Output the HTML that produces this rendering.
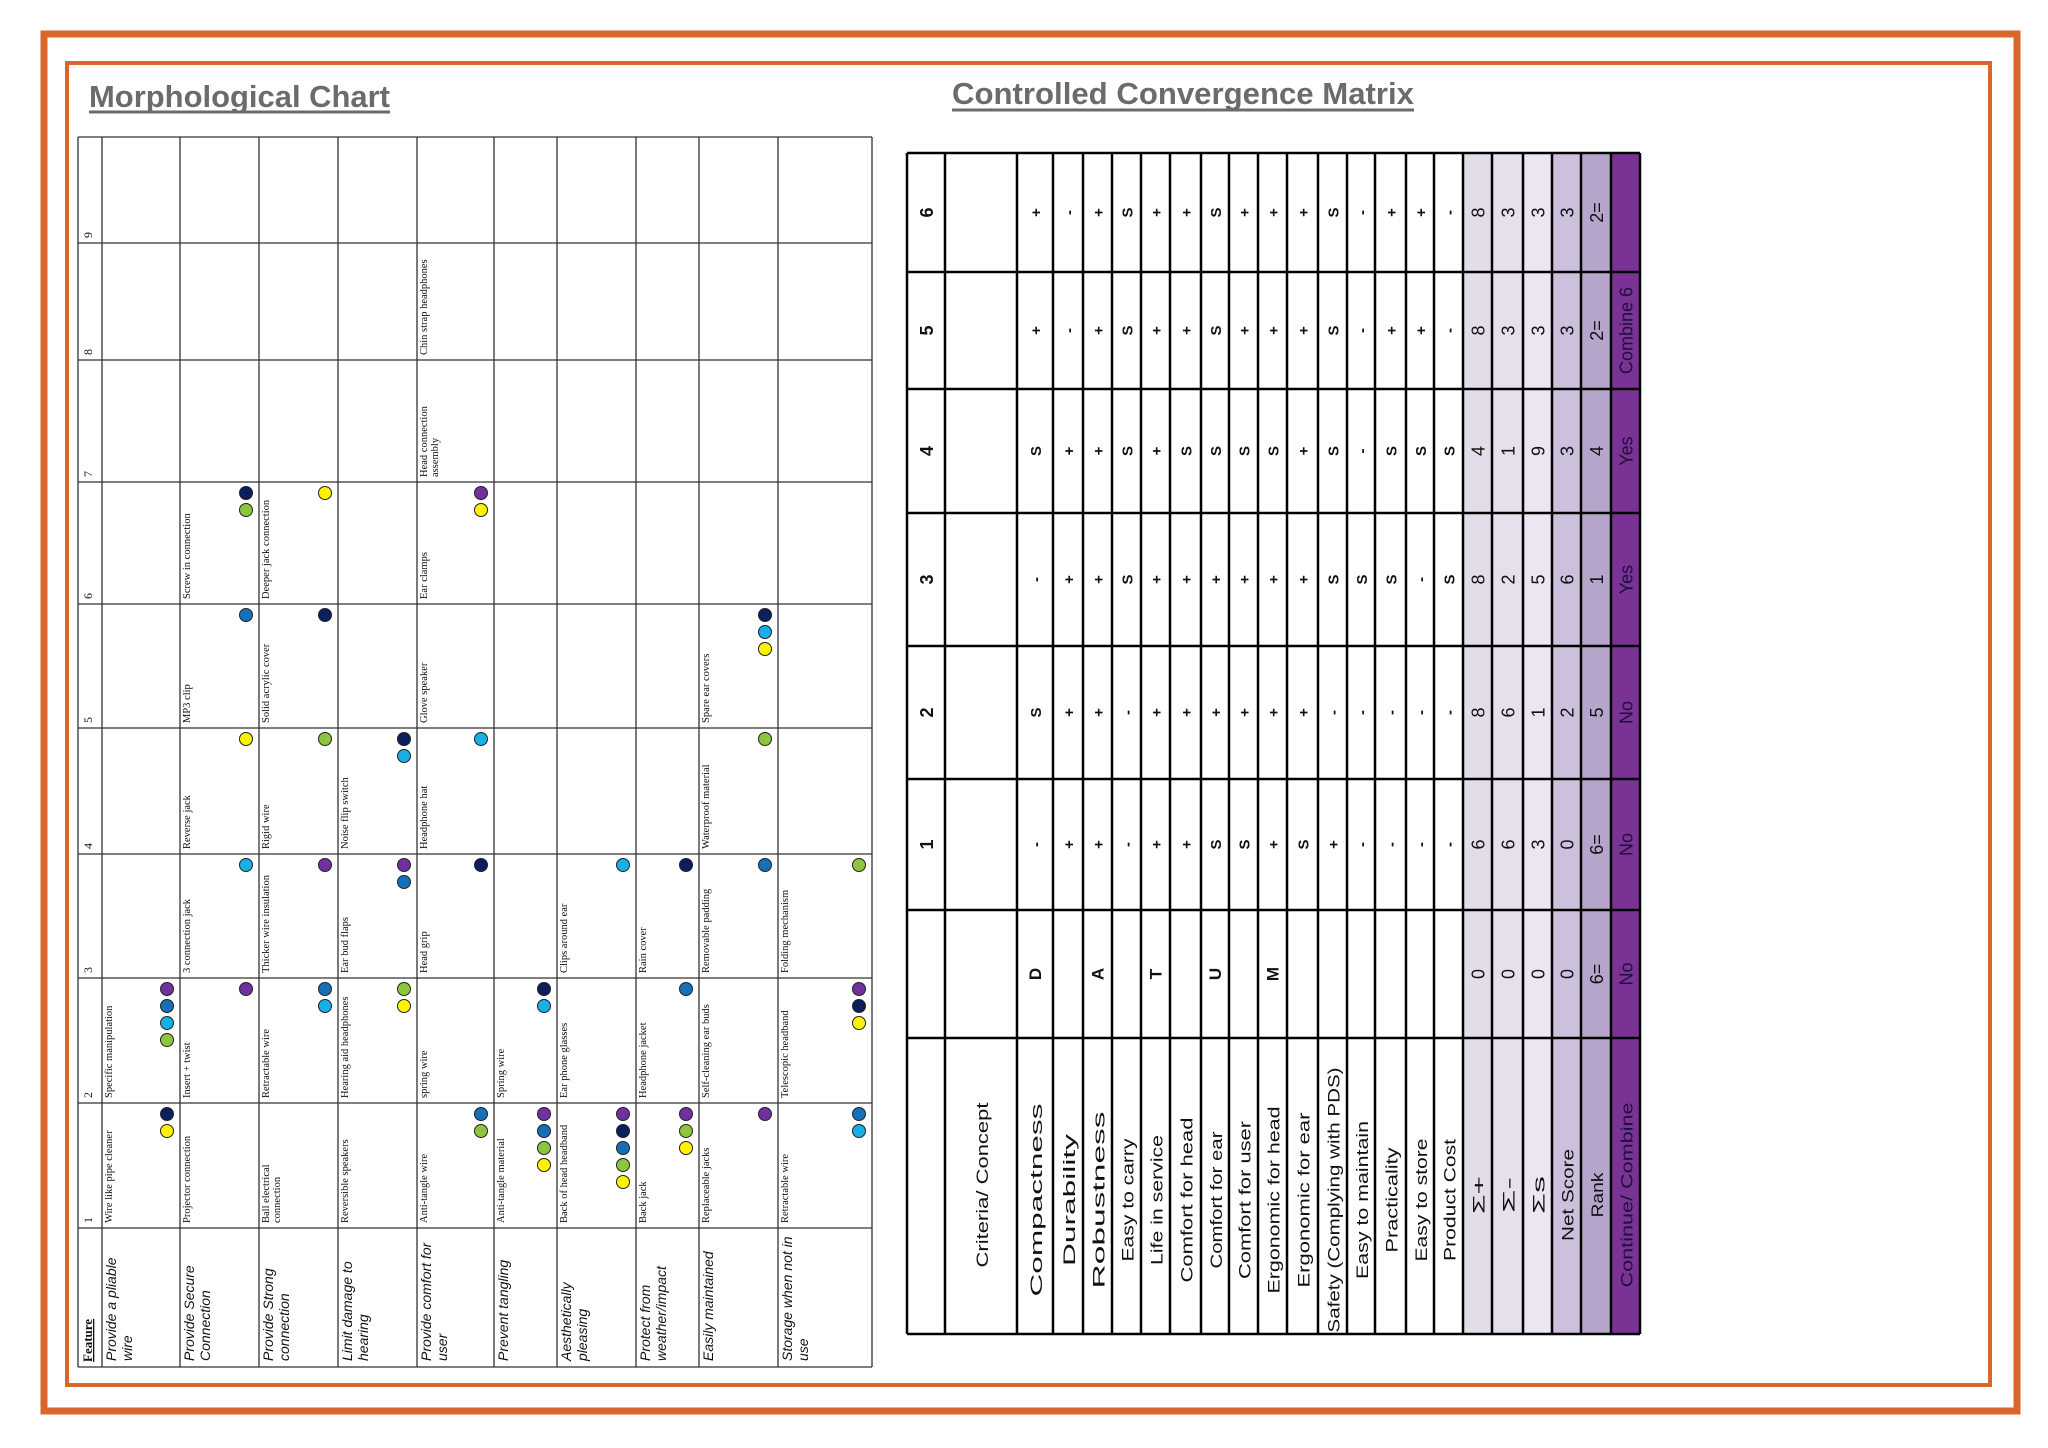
<!DOCTYPE html>
<html><head><meta charset="utf-8">
<style>
html,body{margin:0;padding:0;background:#fff;}
svg{display:block;}
</style></head>
<body>
<svg id="root" xmlns="http://www.w3.org/2000/svg" width="2048" height="1448" viewBox="0 0 2048 1448">
<rect x="0" y="0" width="2048" height="1448" fill="#fff"/>
<rect x="44" y="34" width="1973" height="1377" fill="none" stroke="#d9662b" stroke-width="7"/>
<rect x="67" y="63" width="1923" height="1322" fill="none" stroke="#d9662b" stroke-width="4"/>
<text x="89" y="107" font-family="Liberation Sans, sans-serif" font-weight="bold" font-size="31" fill="#6b6b6b" textLength="301" lengthAdjust="spacingAndGlyphs">Morphological Chart</text>
<line x1="89" y1="112" x2="390" y2="112" stroke="#6b6b6b" stroke-width="3"/>
<text x="952" y="104" font-family="Liberation Sans, sans-serif" font-weight="bold" font-size="31" fill="#6b6b6b" textLength="462" lengthAdjust="spacingAndGlyphs">Controlled Convergence Matrix</text>
<line x1="952" y1="110" x2="1414" y2="110" stroke="#6b6b6b" stroke-width="3"/>
<g id="morph"></g>
<g id="matrix"></g>
</svg>
<script>
// ---------- Morphological chart data ----------
const morphFeatures = [["Provide a pliable","wire"],["Provide Secure","Connection"],["Provide Strong","connection"],["Limit damage to","hearing"],["Provide comfort for","user"],["Prevent tangling"],["Aesthetically","pleasing"],["Protect from","weather/impact"],["Easily maintained"],["Storage when not in","use"]];
const morphOptions = [
 [["Wire like pipe cleaner"],["Specific manipulation"]],
 [["Projector connection"],["Insert + twist"],["3 connection jack"],["Reverse jack"],["MP3 clip"],["Screw in connection"]],
 [["Ball electrical","connection"],["Retractable wire"],["Thicker wire insulation"],["Rigid wire"],["Solid acrylic cover"],["Deeper jack connection"]],
 [["Reversible speakers"],["Hearing aid headphones"],["Ear bud flaps"],["Noise flip switch"]],
 [["Anti-tangle wire"],["spring wire"],["Head grip"],["Headphone hat"],["Glove speaker"],["Ear clamps"],["Head connection","assembly"],["Chin strap headphones"]],
 [["Anti-tangle material"],["Spring wire"]],
 [["Back of head headband"],["Ear phone glasses"],["Clips around ear"]],
 [["Back jack"],["Headphone jacket"],["Rain cover"]],
 [["Replaceable jacks"],["Self-cleaning ear buds"],["Removable padding"],["Waterproof material"],["Spare ear covers"]],
 [["Retractable wire"],["Telescopic headband"],["Folding mechanism"]]
];
const morphDots = [
 ["NY","PBCG"],
 ["","P","C","Y","B","NG"],
 ["","BC","P","G","N","Y"],
 ["","GY","PB","NC"],
 ["BG","","N","C","","PY","",""],
 ["PBGY","NC"],
 ["PNBGY","","C"],
 ["PGY","B","N"],
 ["P","","B","G","NCY"],
 ["BC","PNY","G"]
];
const optionNumbers = ["1","2","3","4","5","6","7","8","9"];

// ---------- Convergence matrix data ----------
const criteria = ["Compactness","Durability","Robustness","Easy to carry","Life in service","Comfort for head","Comfort for ear","Comfort for user","Ergonomic for head","Ergonomic for ear","Safety (Complying with PDS)","Easy to maintain","Practicality","Easy to store","Product Cost"];
const conceptIds = ["6","5","4","3","2","1",""];
const conceptScores = [
 ["+","-","+","S","+","+","S","+","+","+","S","-","+","+","-"],
 ["+","-","+","S","+","+","S","+","+","+","S","-","+","+","-"],
 ["S","+","+","S","+","S","S","S","S","+","S","-","S","S","S"],
 ["-","+","+","S","+","+","+","+","+","+","S","S","S","-","S"],
 ["S","+","+","-","+","+","+","+","+","+","-","-","-","-","-"],
 ["-","+","+","-","+","+","S","S","+","S","+","-","-","-","-"],
 ["D","","A","","T","","U","","M","","","","","",""]
];
const sumPlus = [8,8,4,8,8,6,0];
const sumMinus = [3,3,1,2,6,6,0];
const sumSame = [3,3,9,5,1,3,0];
const netScore = [3,3,3,6,2,0,0];
const rankVals = ["2=","2=","4","1","5","6=","6="];
const continueVals = ["","Combine 6","Yes","Yes","No","No","No"];
const summaryLabels = ["Σ+","Σ-","Σs","Net Score","Rank","Continue/ Combine"];

const NS = "http://www.w3.org/2000/svg";
function mk(tag, parent, attrs, name){
  const el = document.createElementNS(NS, tag);
  for (const k in attrs) el.setAttribute(k, attrs[k]);
  
  
  parent.appendChild(el);
  return el;
}
function vtext(parent, x, y, str, size, family, name, extra){
  const t = mk('text', parent, Object.assign({transform:`translate(${x},${y}) rotate(-90)`, 'font-size':size, 'font-family':family, fill:'#111'}, extra||{}), name);
  t.textContent = str;
  return t;
}

// ---------- draw morph chart ----------
const mg = document.getElementById('morph');
const mColX = [78,102,180,259,338,417,494,557,636,699,778,872];
const mRowY = [137,243,360,482,604,728,854,978,1103,1228,1367];
const dotColors = {N:"#0b1f5c",B:"#1670b8",C:"#18aee6",G:"#8cc63f",Y:"#fff200",P:"#7030a0"};
const serif = "Liberation Serif, serif";
const sans = "Liberation Sans, sans-serif";
mColX.forEach((x,i)=>{ mk('line', mg, {x1:x,y1:mRowY[0],x2:x,y2:mRowY[mRowY.length-1],stroke:'#333','stroke-width':1.3}, 'morph-col-line'); });
mRowY.forEach((y,i)=>{ mk('line', mg, {x1:mColX[0],y1:y,x2:mColX[mColX.length-1],y2:y,stroke:'#333','stroke-width':1.3}, 'morph-row-line'); });
vtext(mg, 92, 1362, "Feature", 13, serif, 'feature-header', {'font-weight':'bold','text-decoration':'underline'});
optionNumbers.forEach((n,k)=>{
  const bottom = mRowY[mRowY.length-2-k];
  vtext(mg, 92, bottom-5, n, 12, serif, 'option-number');
});
morphFeatures.forEach((lines,f)=>{
  const left = mColX[f+1], right = mColX[f+2];
  lines.forEach((ln,i)=>{ vtext(mg, left+14+i*16, 1361, ln, 14, sans, 'feature-name', {'font-style':'italic'}); });
  morphOptions[f].forEach((opt,k)=>{
    const bottom = mRowY[mRowY.length-2-k];
    const top = mRowY[mRowY.length-3-k];
    opt.forEach((ln,i)=>{ vtext(mg, left+10+i*11, bottom-5, ln, 10.5, serif, 'option-label'); });
    const ds = (morphDots[f][k]||"");
    for (let d=0; d<ds.length; d++){
      mk('circle', mg, {cx:right-13, cy:top+11+d*17, r:6.5, fill:dotColors[ds[d]], stroke:'#222','stroke-width':1}, 'selection-dot');
    }
  });
});

// ---------- draw matrix ----------
const xg = document.getElementById('matrix');
const xColX = [907,945,1017,1053,1083,1112,1141,1170,1201,1229,1258,1287,1318,1347,1375,1406,1434,1463,1492,1523,1552,1581,1611,1640];
const xRowY = [153,272,389,513,646,779,910,1038,1334];
const shade = ["#e3dde9","#e5e0ec","#ebe6f1","#ccc0dc","#b6a5cb","#7a3295"];
const calib = "Liberation Sans Narrow, Liberation Sans, sans-serif";
for (let s=0;s<6;s++){
  mk('rect', xg, {x:xColX[17+s], y:xRowY[0], width:xColX[18+s]-xColX[17+s], height:xRowY[8]-xRowY[0], fill:shade[s]}, 'summary-column-fill');
}
xColX.forEach(x=>{ mk('line', xg, {x1:x,y1:xRowY[0],x2:x,y2:xRowY[8],stroke:'#000','stroke-width':2.5}, 'matrix-col-line'); });
xRowY.forEach(y=>{ mk('line', xg, {x1:xColX[0],y1:y,x2:xColX[23],y2:y,stroke:'#000','stroke-width':2.5}, 'matrix-row-line'); });
const labelLen = [193,132,177,123,130,165,137,158,187,175,265,158,105,123,122];
const sumLen = [38,36,38,92,45,185];
function cx(i){ return (xColX[i]+xColX[i+1])/2; }
function cy(r){ return (xRowY[r]+xRowY[r+1])/2; }
vtext(xg, cx(1)+7, 1185, "Criteria/ Concept", 17, calib, 'criteria-header', {'text-anchor':'middle', textLength:165, lengthAdjust:'spacingAndGlyphs'});
criteria.forEach((c,i)=>{
  vtext(xg, cx(2+i)+7, 1200, c, 17, calib, 'criterion-label', {'text-anchor':'middle', textLength:labelLen[i], lengthAdjust:'spacingAndGlyphs'});
});
summaryLabels.forEach((c,i)=>{
  vtext(xg, cx(17+i)+7, 1195, c, 17, calib, 'summary-label', {'text-anchor':'middle', textLength:sumLen[i], lengthAdjust:'spacingAndGlyphs', fill: i==5?'#1e0f3c':'#111'});
});
conceptIds.forEach((id,r)=>{
  if (id) vtext(xg, cx(0)+7, cy(r), id, 18, calib, 'concept-number', {'text-anchor':'middle','font-weight':'bold'});
  conceptScores[r].forEach((v,i)=>{
    if (!v) return;
    vtext(xg, cx(2+i)+6, cy(r), v, r==6?17:15, calib, 'score-cell', {'text-anchor':'middle','font-weight':'bold'});
  });
  const vals = [sumPlus[r], sumMinus[r], sumSame[r], netScore[r], rankVals[r], continueVals[r]];
  vals.forEach((v,i)=>{
    if (v==="" ) return;
    vtext(xg, cx(17+i)+7, cy(r), String(v), 18, calib, 'summary-value', {'text-anchor':'middle', fill: i==5?'#1e0f3c':'#111'});
  });
});
</script>
</body></html>
